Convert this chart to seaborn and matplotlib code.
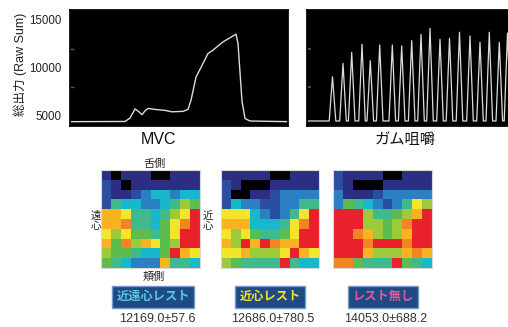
import numpy as np
import pandas as pd
import matplotlib
matplotlib.use("Agg")
import matplotlib.pyplot as plt
from matplotlib.colors import ListedColormap
import seaborn as sns

sns.set_theme(style="white")
plt.rcParams['font.family'] = ['Liberation Sans', 'Noto Sans CJK JP', 'DejaVu Sans']

# ---------------- data ----------------
# MVC trace (time, total output)
mvc_t = [0.0, 5.5, 6.0, 6.5, 6.9, 7.2, 7.5, 7.8, 8.5, 9.5, 10.2, 11.3, 11.8, 12.1,
         12.6, 13.0, 13.8, 14.3, 15.3, 16.6, 16.8, 17.2, 17.5, 18.0, 21.8]
mvc_v = [4380, 4400, 4750, 5700, 5400, 5100, 5500, 5750, 5650, 5550, 5400, 5450, 5650, 6600,
         9000, 9800, 11450, 11800, 12650, 13450, 12500, 6500, 4700, 4450, 4380]

# gum chewing trace: onset, peak, offset of each chewing cycle
chew_onset = [2.22, 3.27, 4.14, 5.17, 6.00, 6.94, 8.20, 9.14, 10.14, 11.07, 11.97, 12.97,
              13.92, 14.92, 15.97, 16.97, 17.90, 18.90, 19.72]
chew_peak_t = [2.55, 3.60, 4.47, 5.50, 6.33, 7.27, 8.53, 9.47, 10.47, 11.40, 12.30, 13.30,
               14.25, 15.25, 16.30, 17.30, 18.23, 19.23, 20.05]
chew_offset = [2.88, 3.93, 4.80, 5.83, 6.66, 7.60, 8.86, 9.80, 10.80, 11.73, 12.63, 13.63,
               14.58, 15.58, 16.63, 17.63, 18.56, 19.56, 20.38]
chew_peak_v = [9040, 10430, 11570, 12400, 10700, 12330, 12330, 12230, 12780, 13440, 14060,
               12920, 13030, 13650, 13260, 12610, 13650, 12610, 13560]
chew_base = 4450

yticks = [5000, 10000, 15000]

# pressure distribution maps (colour level index, 0 = none)
hm_mesiodistal = [
    [1, 0, 1, 1, 1, 0, 0, 1, 1, 1],
    [2, 1, 0, 1, 1, 1, 1, 1, 1, 1],
    [2, 1, 1, 2, 3, 4, 4, 3, 4, 4],
    [2, 5, 4, 4, 3, 3, 4, 5, 7, 6],
    [9, 9, 8, 5, 5, 4, 5, 7, 8, 11],
    [9, 9, 10, 5, 5, 4, 6, 8, 10, 11],
    [8, 7, 8, 6, 6, 5, 6, 8, 11, 11],
    [9, 6, 10, 7, 9, 8, 6, 7, 11, 11],
    [7, 6, 6, 5, 4, 4, 6, 11, 9, 8],
    [6, 5, 4, 3, 3, 3, 9, 5, 5, 4],
]
hm_mesial = [
    [1, 1, 1, 1, 1, 0, 0, 1, 1, 1],
    [2, 1, 0, 0, 0, 1, 1, 1, 1, 1],
    [2, 0, 0, 1, 1, 2, 3, 3, 3, 3],
    [2, 4, 3, 3, 2, 2, 3, 3, 5, 5],
    [8, 8, 8, 4, 3, 2, 3, 5, 8, 11],
    [9, 9, 9, 4, 4, 4, 5, 8, 10, 11],
    [8, 7, 8, 6, 5, 5, 6, 8, 11, 11],
    [9, 7, 11, 9, 11, 10, 9, 9, 11, 11],
    [8, 8, 9, 7, 7, 7, 8, 11, 9, 8],
    [7, 6, 5, 5, 5, 5, 11, 5, 4, 4],
]
hm_norest = [
    [2, 1, 1, 1, 1, 0, 0, 1, 1, 1],
    [2, 1, 0, 0, 0, 1, 1, 1, 1, 1],
    [3, 1, 1, 1, 2, 3, 3, 3, 3, 3],
    [3, 6, 5, 4, 3, 2, 3, 5, 8, 7],
    [11, 11, 11, 7, 5, 5, 6, 7, 9, 11],
    [11, 11, 11, 7, 7, 6, 7, 10, 11, 11],
    [11, 11, 10, 9, 7, 6, 7, 9, 11, 11],
    [11, 11, 11, 10, 11, 11, 11, 10, 11, 11],
    [11, 11, 11, 9, 7, 7, 7, 9, 10, 9],
    [10, 10, 6, 5, 5, 5, 11, 6, 5, 4],
]

rest_labels = ['近遠心レスト', '近心レスト', 'レスト無し']
rest_means = [12169.0, 12686.0, 14053.0]
rest_sds = [57.6, 780.5, 688.2]

# ---------------- style ----------------
level_colors = ['#000000', '#2c2e84', '#2b4ea2', '#2a80c2', '#17b8cb', '#40b98c',
                '#5cbd4e', '#9dca3b', '#f2e52b', '#f7b320', '#f28424', '#e8212a']
badge_text_colors = ['#5cc8dc', '#f2e12c', '#e0589e']
W, H = 508, 327


def fig_rect(x0, y0, x1, y1):
    return [x0 / W, 1 - y1 / H, (x1 - x0) / W, (y1 - y0) / H]


fig = plt.figure(figsize=(W / 100, H / 100), dpi=100)
fig.patch.set_facecolor('white')

ylim = (3930, 15960)

# MVC panel
ax1 = fig.add_axes(fig_rect(70, 10, 288, 126))
mvc_df = pd.DataFrame({'t': mvc_t, 'v': mvc_v})
sns.lineplot(data=mvc_df, x='t', y='v', ax=ax1, color='#dcdcdc', lw=1.0,
             sort=False, estimator=None)
ax1.set_xlim(0, 21.8)
ax1.set_ylim(*ylim)
ax1.set_facecolor('black')
ax1.set_yticks(yticks)
ax1.set_yticklabels([str(v) for v in yticks], fontsize=8.3, color='#222222')
ax1.tick_params(axis='y', length=0, pad=6)
ax1.set_xticks([4.4, 8.8, 13.3, 17.7])
ax1.set_xticklabels([])
ax1.tick_params(axis='x', direction='in', length=3, color='#555555')
ax1.set_yticks([7950, 11900], minor=True)
ax1.tick_params(axis='y', which='minor', direction='in', length=3, color='#555555', left=True)
ax1.set_xlabel('')
ax1.set_ylabel('')
for s in ax1.spines.values():
    s.set_color('black')

# chewing panel
t_pts = [0.0]
v_pts = [chew_base]
for on, pt, off, pv in zip(chew_onset, chew_peak_t, chew_offset, chew_peak_v):
    t_pts += [on, pt, off]
    v_pts += [chew_base, pv, chew_base]
chew_df = pd.DataFrame({'t': t_pts, 'v': v_pts})
ax2 = fig.add_axes(fig_rect(307, 10, 512, 126))
sns.lineplot(data=chew_df, x='t', y='v', ax=ax2, color='#dcdcdc', lw=0.9,
             sort=False, estimator=None)
ax2.set_xlim(0, 20.5)
ax2.set_ylim(*ylim)
ax2.set_facecolor('black')
ax2.set_xticks([])
ax2.set_yticks([7950, 11900])
ax2.set_yticklabels([])
ax2.tick_params(axis='y', direction='in', length=3, color='#555555', left=True)
ax2.set_xlabel('')
ax2.set_ylabel('')
for s in ax2.spines.values():
    s.set_color('black')

fig.text(20 / W, 1 - 64 / H, '総出力 (Raw Sum)', rotation=90, ha='center', va='center',
         fontsize=9, color='#222222')
fig.text(159 / W, 1 - 140 / H, 'MVC', ha='center', va='center', fontsize=11.5, color='#111111')
fig.text(405 / W, 1 - 140 / H, 'ガム咀嚼', ha='center', va='center', fontsize=11, color='#111111')

# heatmaps
cmap = ListedColormap(level_colors)
hm_rects = [(101, 170, 200, 268), (221, 170, 319, 268), (333, 170, 432, 268)]
for mat, rect in zip([hm_mesiodistal, hm_mesial, hm_norest], hm_rects):
    ax = fig.add_axes(fig_rect(*rect))
    sns.heatmap(np.array(mat), ax=ax, cmap=cmap, vmin=-0.5, vmax=11.5, cbar=False,
                xticklabels=False, yticklabels=False, linewidths=0)
    for s in ax.spines.values():
        s.set_visible(True)
        s.set_color('#d8d8d8')
        s.set_linewidth(0.8)

fig.text(154 / W, 1 - 164 / H, '舌側', ha='center', va='center', fontsize=8, color='#222222')
fig.text(154 / W, 1 - 277 / H, '頬側', ha='center', va='center', fontsize=8, color='#222222')
fig.text(96 / W, 1 - 221 / H, '遠\n心', ha='center', va='center', fontsize=7.5, color='#222222',
         linespacing=1.0)
fig.text(208 / W, 1 - 221 / H, '近\n心', ha='center', va='center', fontsize=7.5, color='#222222',
         linespacing=1.0)

badge_x = [153, 270, 383]
num_x = [157, 273, 386]
for lab, m, s, bx, nx, tc in zip(rest_labels, rest_means, rest_sds, badge_x, num_x,
                                 badge_text_colors):
    fig.text(bx / W, 1 - 297 / H, lab, ha='center', va='center', fontsize=8.8,
             fontweight='bold', color=tc,
             bbox=dict(boxstyle='square,pad=0.38', facecolor='#1f4b85', edgecolor='#6d9ad0',
                       linewidth=1.0))
    fig.text(nx / W, 1 - 319 / H, f'{m:.1f}±{s:.1f}', ha='center', va='center', fontsize=9,
             color='#333333')

fig.savefig('out.png', dpi=100, facecolor='white')
